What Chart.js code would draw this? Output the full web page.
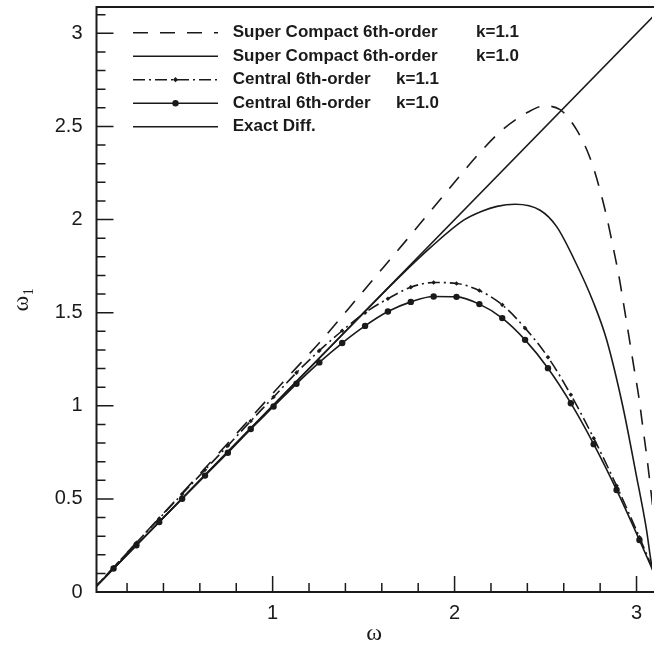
<!DOCTYPE html>
<html><head><meta charset="utf-8">
<script src="https://cdn.jsdelivr.net/npm/chart.js@4.4.0/dist/chart.umd.min.js"></script>
<style>html,body{margin:0;padding:0;background:#fff;overflow:hidden}#wrap{width:656px;height:645px;position:relative}</style>
</head><body><div id="wrap"><canvas id="c" width="656" height="645"></canvas></div>
<script>
// ---- data ----
const exactX = [0, 3.1416];
const exactY = [0, 3.1416];

const scK11X = [0, 0.25, 0.5, 0.75, 1.043, 1.27, 1.488, 1.643, 1.733, 1.937, 2.152, 2.266, 2.401, 2.49, 2.58, 2.672, 2.743, 2.794, 2.835, 2.87, 2.903, 2.93, 2.957, 2.985, 3.012, 3.034, 3.056, 3.077, 3.1, 3.1416];
const scK11Y = [0, 0.264, 0.528, 0.795, 1.112, 1.353, 1.604, 1.783, 1.887, 2.127, 2.374, 2.485, 2.576, 2.61, 2.59, 2.48, 2.335, 2.177, 2.019, 1.858, 1.697, 1.54, 1.38, 1.21, 1.05, 0.89, 0.73, 0.56, 0.36, 0];

const scK10X = [0, 0.5, 1.0, 1.4, 1.687, 1.87, 2.052, 2.15, 2.233, 2.333, 2.47, 2.561, 2.67, 2.761, 2.834, 2.925, 2.997, 3.052, 3.088, 3.1416];
const scK10Y = [0, 0.5, 1.0, 1.399, 1.683, 1.852, 1.998, 2.045, 2.071, 2.082, 2.05, 1.962, 1.76, 1.56, 1.36, 0.995, 0.636, 0.351, 0.12, 0];

const centralX = [0, 0.1257, 0.2513, 0.377, 0.5027, 0.6283, 0.754, 0.8796, 1.0053, 1.131, 1.2566, 1.3823, 1.508, 1.6336, 1.7593, 1.885, 2.0106, 2.1363, 2.2619, 2.3876, 2.5133, 2.6389, 2.7646, 2.8903, 3.0159, 3.1416];
const c11Y = [0, 0.132, 0.264, 0.395, 0.526, 0.656, 0.786, 0.918, 1.047, 1.178, 1.296, 1.403, 1.5, 1.575, 1.637, 1.662, 1.657, 1.619, 1.542, 1.417, 1.261, 1.059, 0.826, 0.570, 0.294, 0];
const c10Y = [0, 0.126, 0.251, 0.376, 0.501, 0.625, 0.748, 0.875, 0.996, 1.118, 1.233, 1.337, 1.429, 1.506, 1.558, 1.587, 1.585, 1.546, 1.471, 1.354, 1.202, 1.014, 0.794, 0.548, 0.279, 0];

const legendNames = ['Super Compact 6th-order', 'Super Compact 6th-order', 'Central 6th-order', 'Central 6th-order', 'Exact Diff.'];
const legendParams = ['k=1.1', 'k=1.0', 'k=1.1', 'k=1.0', ''];

const xTickValues = [1, 2, 3];
const xTickLabels = ['1', '2', '3'];
const yTickValues = [0, 0.5, 1, 1.5, 2, 2.5, 3];
const yTickLabels = ['0', '0.5', '1', '1.5', '2', '2.5', '3'];
const xTitle = 'ω';
const yTitle = 'ω₁';

// ---- build ----
const pts = (xs, ys) => xs.map((v, i) => ({x: v, y: ys[i]}));
const INK = '#1a1a1a';

const datasets = [
  {label: legendNames[0] + ' ' + legendParams[0], data: pts(scK11X, scK11Y), borderDash: [15, 12], pointRadius: 0, mk: null},
  {label: legendNames[1] + ' ' + legendParams[1], data: pts(scK10X, scK10Y), borderDash: [], pointRadius: 0, mk: null},
  {label: legendNames[2] + ' ' + legendParams[2], data: pts(centralX, c11Y), borderDash: [12, 4, 2, 4], pointRadius: 2.3, pointStyle: 'rectRot', mk: 'small'},
  {label: legendNames[3] + ' ' + legendParams[3], data: pts(centralX, c10Y), borderDash: [], pointRadius: 3.2, pointStyle: 'circle', mk: 'big'},
  {label: legendNames[4], data: pts(exactX, exactY), borderDash: [], pointRadius: 0, mk: null}
].map(d => Object.assign({
  borderColor: INK, backgroundColor: INK, pointBackgroundColor: INK, pointBorderColor: INK,
  borderWidth: 1.6, pointBorderWidth: 0, cubicInterpolationMode: 'monotone', fill: false, clip: 0
}, d));

const frame = {
  id: 'frame',
  afterDatasetsDraw(chart) {
    const {ctx, chartArea: a, scales: {x, y}} = chart;
    ctx.save();
    ctx.strokeStyle = INK;
    ctx.lineWidth = 1.5;
    ctx.beginPath();
    for (let i = 1; i <= 15; i++) {
      const v = i * 0.2; const px = x.getPixelForValue(v);
      if (px > a.right) continue;
      const major = (i % 5 === 0);
      ctx.moveTo(px, a.bottom); ctx.lineTo(px, a.bottom - (major ? 16 : 9));
    }
    for (let i = 1; i <= 31; i++) {
      const v = i * 0.1; const py = y.getPixelForValue(v);
      if (py < a.top) continue;
      const major = (i % 5 === 0);
      ctx.moveTo(a.left, py); ctx.lineTo(a.left + (major ? 17 : 9), py);
    }
    ctx.stroke();
    ctx.lineWidth = 2;
    ctx.beginPath();
    ctx.moveTo(a.right + 2, a.top); ctx.lineTo(a.left, a.top); ctx.lineTo(a.left, a.bottom); ctx.lineTo(a.right + 2, a.bottom);
    ctx.stroke();

    // legend inside plot
    const rowY0 = 32.7, rowStep = 23.5, x0 = 133, x1 = 218, tx = 232.7;
    chart.data.datasets.forEach((ds, i) => {
      const yy = rowY0 + i * rowStep;
      ctx.save();
      ctx.lineWidth = ds.borderWidth;
      ctx.setLineDash(ds.borderDash || []);
      ctx.beginPath(); ctx.moveTo(x0, yy); ctx.lineTo(x1, yy); ctx.stroke();
      ctx.setLineDash([]);
      const cx = (x0 + x1) / 2;
      ctx.fillStyle = INK;
      if (ds.mk === 'big') { ctx.beginPath(); ctx.arc(cx, yy, 3.2, 0, Math.PI * 2); ctx.fill(); }
      if (ds.mk === 'small') { ctx.beginPath(); ctx.moveTo(cx, yy - 2.6); ctx.lineTo(cx + 2.6, yy); ctx.lineTo(cx, yy + 2.6); ctx.lineTo(cx - 2.6, yy); ctx.closePath(); ctx.fill(); }
      ctx.font = 'bold 17px "Liberation Sans", Arial, sans-serif';
      ctx.textBaseline = 'middle';
      ctx.textAlign = 'left';
      ctx.fillText(legendNames[i], tx, yy);
      if (legendParams[i]) {
        const px = i < 2 ? 476 : 396;
        ctx.fillText(legendParams[i], px, yy);
      }
      ctx.restore();
    });
    ctx.restore();
  }
};

new Chart(document.getElementById('c'), {
  type: 'line',
  data: {datasets},
  options: {
    responsive: false,
    animation: false,
    devicePixelRatio: 1,
    layout: {padding: {top: 7, right: 0, left: 0, bottom: 0}},
    plugins: {legend: {display: false}, tooltip: {enabled: false}},
    elements: {line: {tension: 0.4}},
    scales: {
      x: {
        type: 'linear', min: 0.032, max: 3.085, bounds: 'data',
        grid: {display: false, drawTicks: false, tickLength: 0},
        border: {display: false},
        afterBuildTicks: s => { s.ticks = xTickValues.map(v => ({value: v})); },
        ticks: {
          autoSkip: false, maxRotation: 0, padding: 9, color: INK,
          font: {family: '"Liberation Sans", Arial, sans-serif', size: 20},
          callback: v => { const k = xTickValues.indexOf(v); return k >= 0 ? xTickLabels[k] : ''; }
        },
        title: {display: true, text: xTitle, color: INK, padding: {top: 0, bottom: -3},
          font: {family: '"Liberation Serif", "Times New Roman", serif', size: 24}},
        afterFit: s => { s.height = 53; s.paddingLeft = 0; s.paddingRight = 0; }
      },
      y: {
        type: 'linear', min: 0, max: 3.1416, bounds: 'data',
        grid: {display: false, drawTicks: false, tickLength: 0},
        border: {display: false},
        afterBuildTicks: s => { s.ticks = yTickValues.map(v => ({value: v})); },
        ticks: {
          autoSkip: false, padding: 14, color: INK,
          font: {family: '"Liberation Sans", Arial, sans-serif', size: 20},
          callback: v => { const k = yTickValues.indexOf(v); return k >= 0 ? yTickLabels[k] : ''; }
        },
        title: {display: true, text: yTitle, color: INK, padding: {top: 7, bottom: 0},
          font: {family: '"Liberation Serif", "Times New Roman", serif', size: 24}},
        afterFit: s => { s.width = 96.5; s.paddingTop = 0; s.paddingBottom = 0; }
      }
    }
  },
  plugins: [frame]
});
</script>
</body></html>
